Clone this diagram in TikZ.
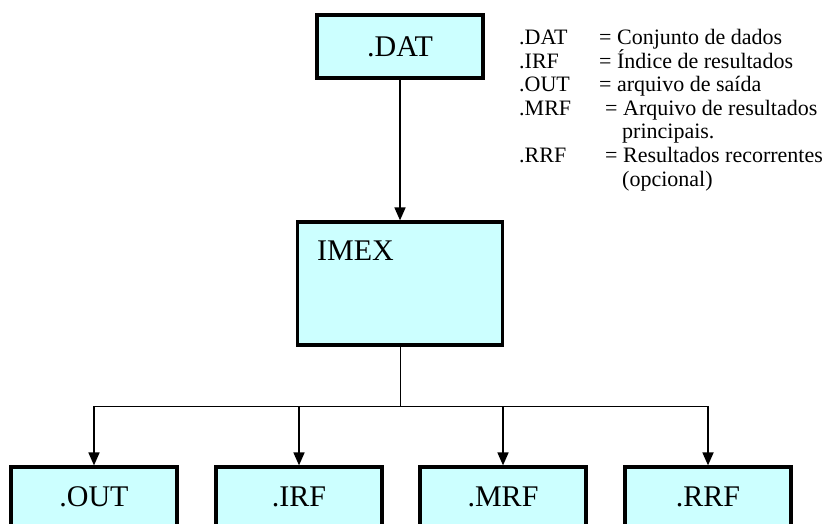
\documentclass[tikz,border=0pt]{standalone}
\usepackage{fontspec}
\setmainfont{Liberation Serif}
\usetikzlibrary{arrows.meta}
\usetikzlibrary{positioning}
\definecolor{mcyan}{rgb}{0.8, 1, 1}
\tikzset{filebox/.style = {draw, line width=3.2pt, fill=mcyan,
                           minimum width=166pt, minimum height=60pt, inner sep=0pt,
                           font=\fontsize{30}{30}\selectfont},
         flow/.style = {line width=1.7pt, -{Triangle[length=13pt, width=11pt]}},
         legend/.style = {anchor=base west, inner sep=0pt,
                          font=\fontsize{22}{22}\selectfont}}

\begin{document}
\begin{tikzpicture}[x=1pt, y=-1pt]
    \clip (0, 0) rectangle (829, 524);

    \node [filebox, minimum height=63pt] (dat) at (400, 46.5) {.DAT};
    \node [filebox, minimum width=205pt, minimum height=123pt] (imex) at (400, 283.5) {};
    \node [anchor=west, inner sep=0pt, font=\fontsize{30}{30}\selectfont] (imexlabel) at (317, 251) {IMEX};

    \node [filebox] (out) at (94, 497) {.OUT};
    \node [filebox] (irf) at (299, 497) {.IRF};
    \node [filebox] (mrf) at (503, 497) {.MRF};
    \node [filebox] (rrf) at (708, 497) {.RRF};

    \draw [flow] (dat) -- (imex);
    \coordinate (split) at (400, 406);
    \draw [line width=1pt] (imex.south) -- (split);
    \draw [line width=1pt] (out |- split) -- (rrf |- split);
    \foreach \f in {out, irf, mrf, rrf}
        \draw [flow] (\f |- split) -- (\f);

    \node [legend] (kdat) at (519, 45) {.DAT};
    \node [legend] (ddat) at (599, 45) {= Conjunto de dados};
    \node [legend] (kirf) at (519, 68.5) {.IRF};
    \node [legend] (dirf) at (599, 68.5) {= Índice de resultados};
    \node [legend] (kout) at (519, 92) {.OUT};
    \node [legend] (dout) at (599, 92) {= arquivo de saída};
    \node [legend] (kmrf) at (519, 115.5) {.MRF};
    \node [legend] (dmrf) at (605, 115.5) {= Arquivo de resultados};
    \node [legend] (dmrfb) at (622, 139) {principais.};
    \node [legend] (krrf) at (519, 162.5) {.RRF};
    \node [legend] (drrf) at (605, 162.5) {= Resultados recorrentes};
    \node [legend] (drrfb) at (622, 186) {(opcional)};
\end{tikzpicture}
\end{document}
